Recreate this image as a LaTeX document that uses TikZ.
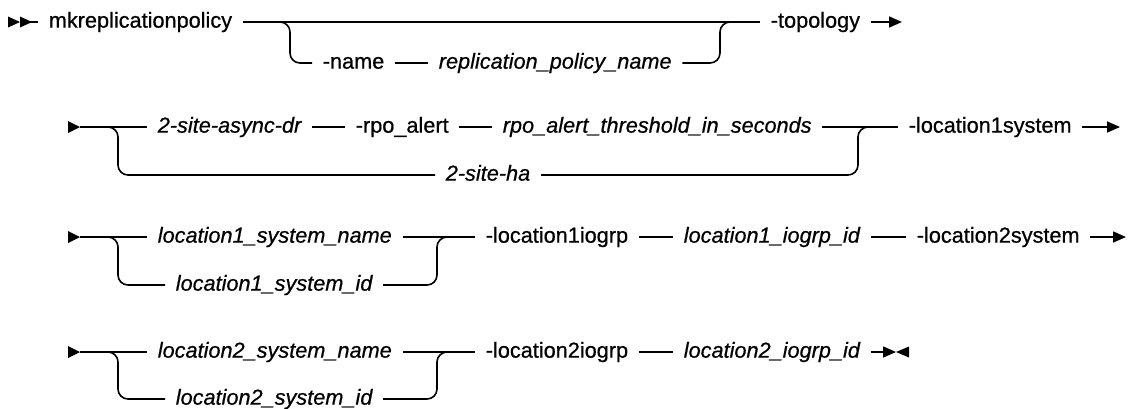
\documentclass[tikz,border=0pt]{standalone}
\usepackage{fontspec}
\setmainfont{Liberation Sans}[FakeBold=0.6]
\usetikzlibrary{arrows.meta}
\begin{document}
\begin{tikzpicture}[x=1pt,y=-1pt, line width=1.6pt,
  lbl/.style={anchor=west, inner xsep=10pt, inner ysep=0pt, text height=17pt, text depth=5.7pt, font=\fontsize{21.7}{26}\selectfont},
  var/.style={lbl, font=\fontsize{21.7}{26}\selectfont\itshape},
  rc/.style={rounded corners=10pt},
  endarrow/.style={-{Triangle[length=13pt,width=11pt]}}]
\useasboundingbox (0,0) rectangle (1128,408);

% ---------- Row 1 ----------
\coordinate (s1) at (8,22);
\node[lbl] (mk) at (38,22) {mkreplicationpolicy};
\node[lbl] (nm) at (312,63) {-name};
\node[var] (rpn) at (428,63) {replication\_policy\_name};
\node[lbl] (topo) at (760,22) {-topology};
\coordinate (r1s) at (280,22);
\coordinate (r1e) at (720,22);
\coordinate (e1) at (902,22);
\fill (s1) ++(0,-5.5) -- ++(12,5.5) -- ++(-12,5.5) -- cycle;
\fill (s1) ++(12,-5.5) -- ++(12,5.5) -- ++(-12,5.5) -- cycle;
\draw (s1) ++(22,0) -- (mk.west);
\draw (mk.east) -- (topo.west);
\draw[rc] (r1s) -- ++(10,0) |- (nm.west);
\draw (nm.east) -- (rpn.west);
\draw[rc] (rpn.east) -| (r1e) -- ++(10,0);
\draw[endarrow] (topo.east) -- (e1);

% ---------- Row 2 ----------
\coordinate (s2) at (68,127);
\node[var] (asy) at (147,127) {2-site-async-dr};
\node[lbl] (rpo) at (345,127) {-rpo\_alert};
\node[var] (thr) at (492,127) {rpo\_alert\_threshold\_in\_seconds};
\node[var] (ha) at (435,175) {2-site-ha};
\node[lbl] (l1sys) at (898,127) {-location1system};
\coordinate (r2s) at (108,127);
\coordinate (r2e) at (858,127);
\coordinate (e2) at (1120,127);
\fill (s2) ++(0,-6) -- ++(12,6) -- ++(-12,6) -- cycle;
\draw (s2) ++(12,0) -- (asy.west);
\draw (asy.east) -- (rpo.west);
\draw (rpo.east) -- (thr.west);
\draw (thr.east) -- (l1sys.west);
\draw[rc] (r2s) -- ++(10,0) |- (ha.west);
\draw[rc] (ha.east) -| (r2e) -- ++(10,0);
\draw[endarrow] (l1sys.east) -- (e2);

% ---------- Row 3 ----------
\coordinate (s3) at (68,237);
\node[var] (l1n) at (147,237) {location1\_system\_name};
\node[var] (l1i) at (165,285) {location1\_system\_id};
\node[lbl] (l1g) at (475,237) {-location1iogrp};
\node[var] (l1gid) at (673,237) {location1\_iogrp\_id};
\node[lbl] (l2sys) at (906,237) {-location2system};
\coordinate (r3s) at (108,237);
\coordinate (r3e) at (437,237);
\coordinate (e3) at (1126,237);
\fill (s3) ++(0,-6) -- ++(12,6) -- ++(-12,6) -- cycle;
\draw (s3) ++(12,0) -- (l1n.west);
\draw (l1n.east) -- (l1g.west);
\draw[rc] (r3s) -- ++(10,0) |- (l1i.west);
\draw[rc] (l1i.east) -| (r3e) -- ++(10,0);
\draw (l1g.east) -- (l1gid.west);
\draw (l1gid.east) -- (l2sys.west);
\draw[endarrow] (l2sys.east) -- (e3);

% ---------- Row 4 ----------
\coordinate (s4) at (68,352);
\node[var] (l2n) at (147,352) {location2\_system\_name};
\node[var] (l2i) at (165,399) {location2\_system\_id};
\node[lbl] (l2g) at (475,352) {-location2iogrp};
\node[var] (l2gid) at (673,352) {location2\_iogrp\_id};
\coordinate (r4s) at (108,352);
\coordinate (r4e) at (437,352);
\coordinate (e4) at (896,352);
\fill (s4) ++(0,-6) -- ++(12,6) -- ++(-12,6) -- cycle;
\draw (s4) ++(12,0) -- (l2n.west);
\draw (l2n.east) -- (l2g.west);
\draw[rc] (r4s) -- ++(10,0) |- (l2i.west);
\draw[rc] (l2i.east) -| (r4e) -- ++(10,0);
\draw (l2g.east) -- (l2gid.west);
\draw[endarrow] (l2gid.east) -- (e4);
\fill (e4) -- ++(13,-5.5) -- ++(0,11) -- cycle;
\end{tikzpicture}
\end{document}
